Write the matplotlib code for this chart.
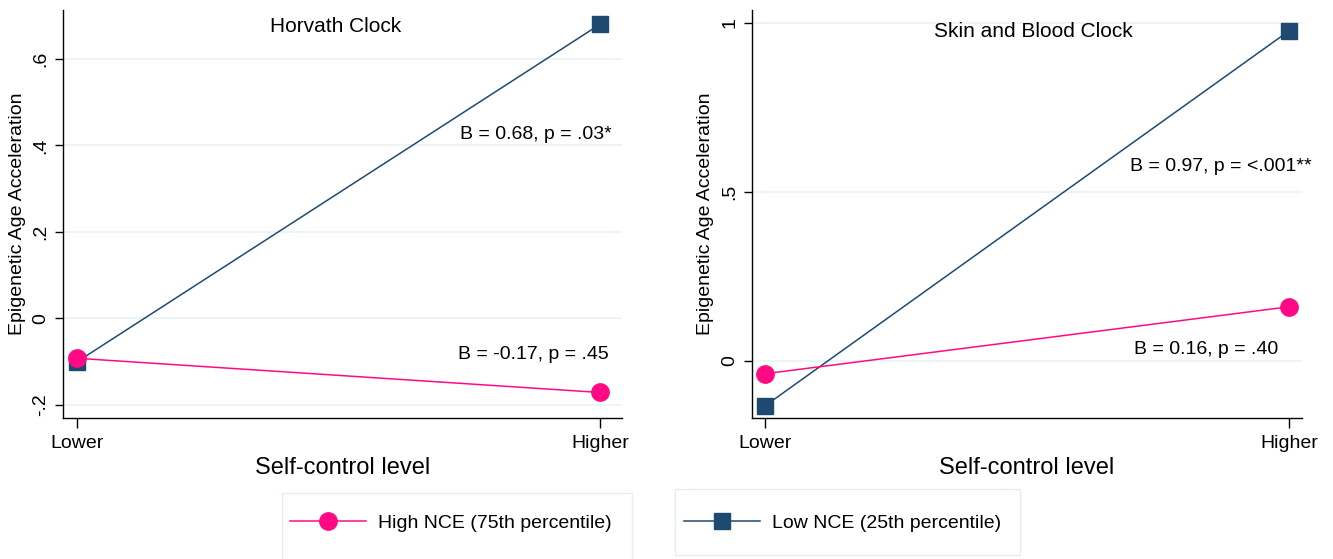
import numpy as np
import matplotlib.pyplot as plt
from matplotlib.patches import Rectangle
from matplotlib.lines import Line2D

plt.rcParams['font.family'] = ['Liberation Sans', 'DejaVu Sans']

# data
levels = ['Lower', 'Higher']
horvath_high = [-0.092, -0.171]
horvath_low = [-0.10, 0.68]
skin_high = [-0.038, 0.16]
skin_low = [-0.133, 0.976]

horvath_ticks = [-0.2, 0, 0.2, 0.4, 0.6]
horvath_ticklabels = ['-.2', '0', '.2', '.4', '.6']
skin_ticks = [0, 0.5, 1]
skin_ticklabels = ['0', '.5', '1']

horvath_notes = ['B = 0.68, p = .03*', 'B = -0.17, p = .45']
skin_notes = ['B = 0.97, p = <.001**', 'B = 0.16, p = .40']
legend_labels = ['High NCE (75th percentile)', 'Low NCE (25th percentile)']

pink = '#FF0A84'
navy = '#1F4A70'
gridc = '#EAF2F3'

W, H = 1333, 559
fig = plt.figure(figsize=(W / 100, H / 100), dpi=100)


def px_axes(x0, x1, y0, y1):
    # figure pixel box -> axes
    return fig.add_axes([x0 / W, 1 - y1 / H, (x1 - x0) / W, (y1 - y0) / H])


def draw_panel(ax, high, low, ticks, ticklabels, title, notes, xlim, ylim,
               title_xy, note_xy):
    x = np.arange(len(levels))
    ax.plot(x, low, color=navy, lw=1.1, marker='s', ms=12, zorder=3)
    ax.plot(x, high, color=pink, lw=1.1, marker='o', ms=12.5, zorder=4)
    ax.set_xlim(xlim)
    ax.set_ylim(ylim)
    ax.set_xticks(x)
    ax.set_xticklabels(levels, fontsize=14)
    ax.set_yticks(ticks)
    ax.set_yticklabels(ticklabels, fontsize=14, rotation=90, va='center')
    ax.tick_params(axis='x', length=7, width=1, pad=5)
    ax.tick_params(axis='y', length=6, width=1, pad=4)
    for t in ticks:
        ax.axhline(t, color=gridc, lw=1.2, zorder=0)
    for s in ['top', 'right']:
        ax.spines[s].set_visible(False)
    for s in ['left', 'bottom']:
        ax.spines[s].set_linewidth(1)
    ax.set_xlabel('Self-control level', fontsize=17, labelpad=4)
    ax.set_ylabel('Epigenetic Age Acceleration', fontsize=14)
    ax.text(title_xy[0], title_xy[1], title, fontsize=15, ha='center', va='center')
    for (nx, ny), note in zip(note_xy, notes):
        ax.text(nx, ny, note, fontsize=14, ha='right', va='center')


ax1 = px_axes(63, 622, 10, 418)
draw_panel(ax1, horvath_high, horvath_low, horvath_ticks, horvath_ticklabels,
           'Horvath Clock', horvath_notes, (-0.027, 1.042), (-0.23, 0.713),
           (0.495, 0.675), [(1.023, 0.425), (1.017, -0.083)])
ax1.yaxis.set_label_coords(-0.066, 0.5)

ax2 = px_axes(752, 1302, 10, 418)
draw_panel(ax2, skin_high, skin_low, skin_ticks, skin_ticklabels,
           'Skin and Blood Clock', skin_notes, (-0.025, 1.025), (-0.169, 1.038),
           (0.513, 0.973), [(1.044, 0.574), (0.979, 0.033)])
ax2.yaxis.set_label_coords(-0.069, 0.5)

# legend boxes
for (x0, x1, y0, y1) in [(282, 632, 493, 575), (675, 1020, 489, 555)]:
    fig.patches.append(Rectangle((x0 / W, 1 - y1 / H), (x1 - x0) / W, (y1 - y0) / H,
                                 transform=fig.transFigure, fill=False,
                                 edgecolor='#E4EEF0', lw=1))

h_pink = Line2D([], [], color=pink, lw=1.1, marker='o', ms=12.5)
h_navy = Line2D([], [], color=navy, lw=1.1, marker='s', ms=12)
for handle, label, xl in [(h_pink, legend_labels[0], 290), (h_navy, legend_labels[1], 684)]:
    fig.legend([handle], [label], loc='center left',
               bbox_to_anchor=(xl / W, 1 - 523 / H), frameon=False, fontsize=14,
               handlelength=3.9, handletextpad=0.65, borderpad=0, borderaxespad=0)

fig.savefig('out.png', dpi=100)
